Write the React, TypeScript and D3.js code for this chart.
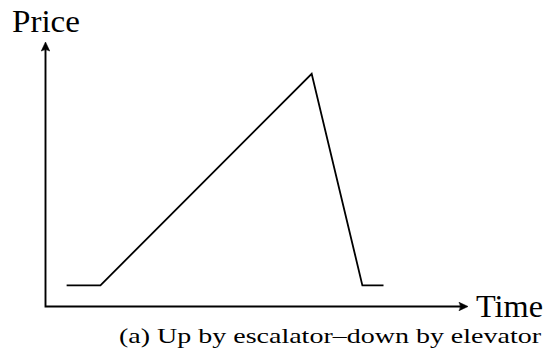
import React from "react";
import * as d3 from "d3";

const times: number[] = [5, 13, 63, 75, 80];
const prices: number[] = [8, 8, 88, 8, 8];
const yLabel = "Price";
const xLabel = "Time";
const caption = "(a) Up by escalator–down by elevator";

const W = 559;
const H = 357;
const ox = 45.5;
const oy = 306.5;
const xEnd = 468;
const yEnd = 42;

export default function App() {
  const x = d3.scaleLinear().domain([0, 100]).range([ox, xEnd]);
  const y = d3.scaleLinear().domain([0, 100]).range([oy, yEnd]);
  const line = d3
    .line<number>()
    .x((_, i) => x(times[i]))
    .y((d) => y(d));
  const pathD = line(prices) || "";
  const font = "'Liberation Serif', 'Times New Roman', serif";
  const head = (tx: number, ty: number, angle: number) => (
    <path
      d="M0,0 L-9,-4.2 Q-6,0 -9,4.2 Z"
      transform={`translate(${tx},${ty}) rotate(${angle})`}
      fill="#000"
      stroke="#000"
      strokeWidth={0.6}
      strokeLinejoin="round"
    />
  );
  return (
    <svg
      width={W}
      height={H}
      style={{ position: "absolute", left: 0, top: 0, background: "#fff" }}
    >
      <path
        d={`M${ox},${yEnd + 4} L${ox},${oy} L${xEnd - 4},${oy}`}
        fill="none"
        stroke="#000"
        strokeWidth={1.9}
        strokeLinejoin="miter"
      />
      {head(ox, yEnd, -90)}
      {head(xEnd, oy, 0)}
      <path d={pathD} fill="none" stroke="#000" strokeWidth={1.8} strokeLinejoin="miter" />
      <text x={12} y={32} fontFamily={font} fontSize={31} textLength={68} lengthAdjust="spacingAndGlyphs">
        {yLabel}
      </text>
      <text x={476} y={316.5} fontFamily={font} fontSize={31} textLength={67} lengthAdjust="spacingAndGlyphs">
        {xLabel}
      </text>
      <text x={119} y={343} fontFamily={font} fontSize={21.5} textLength={422} lengthAdjust="spacingAndGlyphs">
        {caption}
      </text>
    </svg>
  );
}
